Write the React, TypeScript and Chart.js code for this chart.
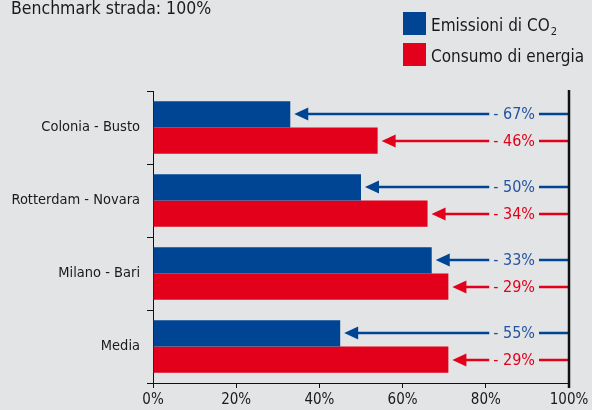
import React, { useEffect, useRef } from "react";
import { Chart, registerables } from "chart.js";

Chart.register(...registerables);

const categories = ["Colonia - Busto", "Rotterdam - Novara", "Milano - Bari", "Media"];
const co2Values = [33, 50, 67, 45];
const energyValues = [54, 66, 71, 71];
const co2Labels = ["- 67%", "- 50%", "- 33%", "- 55%"];
const energyLabels = ["- 46%", "- 34%", "- 29%", "- 29%"];
const xTickValues = [0, 20, 40, 60, 80, 100];
const titleText = "Benchmark strada: 100%";
const legendCo2 = "Emissioni di CO";
const legendCo2Sub = "2";
const legendEnergy = "Consumo di energia";

const BLUE = "#004494";
const RED = "#e2001a";
const BLUE_TEXT = "#24539f";
const FONT = "'Liberation Sans Narrow', 'DejaVu Sans Condensed', 'Roboto Condensed', sans-serif";

const overlayPlugin = {
  id: "overlay",
  afterDatasetsDraw(chart: any) {
    const ctx = chart.ctx as CanvasRenderingContext2D;
    const xs = chart.scales.x;
    const area = chart.chartArea;
    const right = xs.getPixelForValue(100);
    const labelSets = [co2Labels, energyLabels];
    const colors = [BLUE, RED];
    const textColors = [BLUE_TEXT, RED];
    ctx.save();
    ctx.font = `16px ${FONT}`;
    ctx.textBaseline = "middle";
    chart.data.datasets.forEach((ds: any, di: number) => {
      const meta = chart.getDatasetMeta(di);
      meta.data.forEach((bar: any, j: number) => {
        const y = Math.round(bar.y);
        const tip = bar.x + 4;
        const headLen = 14;
        const headH = 6.5;
        const label = labelSets[di][j];
        const textRight = right - 34;
        const w = ctx.measureText(label).width;
        const textLeft = textRight - w;
        ctx.strokeStyle = colors[di];
        ctx.fillStyle = colors[di];
        ctx.lineWidth = 2.5;
        ctx.beginPath();
        ctx.moveTo(tip + headLen - 1, y);
        ctx.lineTo(textLeft - 4, y);
        ctx.moveTo(textRight + 4, y);
        ctx.lineTo(right, y);
        ctx.stroke();
        ctx.beginPath();
        ctx.moveTo(tip, y);
        ctx.lineTo(tip + headLen, y - headH);
        ctx.lineTo(tip + headLen, y + headH);
        ctx.closePath();
        ctx.fill();
        ctx.fillStyle = textColors[di];
        ctx.textAlign = "right";
        ctx.fillText(label, textRight, y + 1);
      });
    });
    // right 100% line
    ctx.strokeStyle = "#111";
    ctx.lineWidth = 2.5;
    ctx.beginPath();
    ctx.moveTo(right, area.top - 1);
    ctx.lineTo(right, area.bottom + 5);
    ctx.stroke();

    // title
    ctx.fillStyle = "#1a1a1a";
    ctx.textAlign = "left";
    ctx.textBaseline = "alphabetic";
    ctx.font = `17.5px ${FONT}`;
    ctx.fillText(titleText, 11, 14);

    // legend
    ctx.fillStyle = BLUE;
    ctx.fillRect(403, 12, 23, 23);
    ctx.fillStyle = RED;
    ctx.fillRect(403, 43, 23, 23);
    ctx.fillStyle = "#1a1a1a";
    ctx.font = `17px ${FONT}`;
    ctx.fillText(legendCo2, 431, 31);
    const lw = ctx.measureText(legendCo2).width;
    ctx.font = `11px ${FONT}`;
    ctx.fillText(legendCo2Sub, 431 + lw + 1, 35);
    ctx.font = `17px ${FONT}`;
    ctx.fillText(legendEnergy, 431, 62);
    ctx.restore();
  },
};

export default function App() {
  const ref = useRef<HTMLCanvasElement | null>(null);
  useEffect(() => {
    if (!ref.current) return;
    const chart = new Chart(ref.current, {
      type: "bar",
      data: {
        labels: categories,
        datasets: [
          { label: legendCo2 + legendCo2Sub, data: co2Values, backgroundColor: BLUE, borderWidth: 0 },
          { label: legendEnergy, data: energyValues, backgroundColor: RED, borderWidth: 0 },
        ],
      },
      options: {
        indexAxis: "y",
        animation: false,
        responsive: true,
        maintainAspectRatio: false,
        layout: { padding: { top: 91, right: 23, left: 0, bottom: 0 } },
        plugins: { legend: { display: false }, tooltip: { enabled: false } },
        datasets: { bar: { categoryPercentage: 0.72, barPercentage: 1 } },
        scales: {
          x: {
            min: 0,
            max: 100,
            afterBuildTicks: (scale: any) => {
              scale.ticks = xTickValues.map((v) => ({ value: v }));
            },
            afterFit: (scale: any) => {
              scale.height = 27;
            },
            ticks: {
              callback: (v: any) => v + "%",
              color: "#1a1a1a",
              font: { family: FONT, size: 15 },
              padding: 3,
              maxRotation: 0,
            },
            grid: { display: true, drawOnChartArea: false, drawTicks: true, tickLength: 5, color: "#111" },
            border: { display: true, color: "#111", width: 1 },
          },
          y: {
            afterFit: (scale: any) => {
              scale.width = 153;
            },
            ticks: {
              color: "#1a1a1a",
              font: { family: FONT, size: 14.5 },
              padding: 7,
            },
            grid: { display: true, drawOnChartArea: false, drawTicks: true, tickLength: 6, color: "#111", offset: true },
            border: { display: true, color: "#111", width: 1 },
          },
        },
      },
      plugins: [overlayPlugin],
    } as any);
    return () => chart.destroy();
  }, []);
  return (
    <div style={{ position: "fixed", left: 0, top: 0, width: 592, height: 410, background: "#e3e4e6" }}>
      <canvas ref={ref} />
    </div>
  );
}
